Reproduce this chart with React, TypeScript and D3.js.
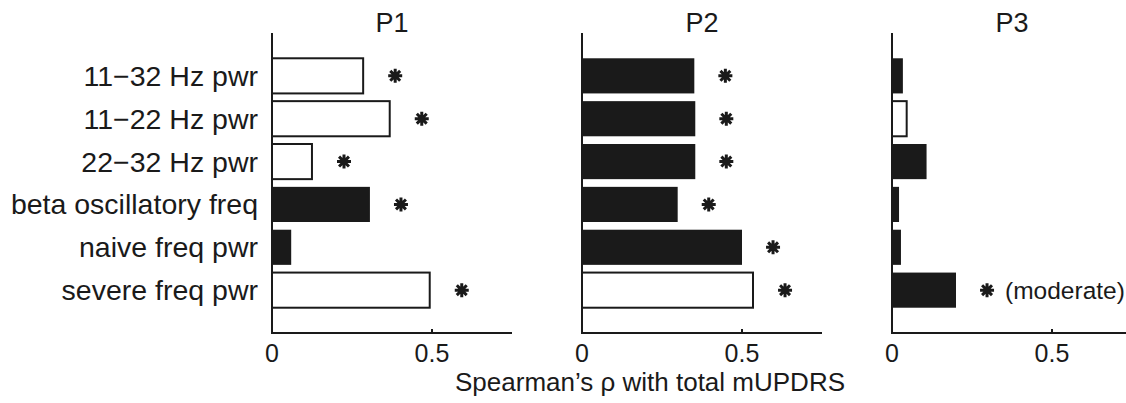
import React from "react";
import * as d3 from "d3";

const categories = [
  "11−32 Hz pwr",
  "11−22 Hz pwr",
  "22−32 Hz pwr",
  "beta oscillatory freq",
  "naive freq pwr",
  "severe freq pwr",
];
const panelTitles = ["P1", "P2", "P3"];
const p1Values = [0.288, 0.371, 0.128, 0.306, 0.06, 0.496];
const p1Filled = [false, false, false, true, true, false];
const p1Sig = [true, true, true, true, false, true];
const p2Values = [0.351, 0.354, 0.354, 0.299, 0.5, 0.5375];
const p2Filled = [true, true, true, true, true, false];
const p2Sig = [true, true, true, true, true, true];
const p3Values = [0.034, 0.049, 0.108, 0.022, 0.028, 0.2];
const p3Filled = [true, false, true, true, true, true];
const p3Sig = [false, false, false, false, false, true];
const p3Notes = ["", "", "", "", "", "(moderate)"];
const xTicks = [0, 0.5];
const xTickLabels = ["0", "0.5"];
const xLabel = "Spearman\u2019s \u03c1 with total mUPDRS";

const panels = [
  { values: p1Values, filled: p1Filled, sig: p1Sig, notes: ["", "", "", "", "", ""] },
  { values: p2Values, filled: p2Filled, sig: p2Sig, notes: ["", "", "", "", "", ""] },
  { values: p3Values, filled: p3Filled, sig: p3Sig, notes: p3Notes },
];

const INK = "#1a1a1a";
const FONT = "Liberation Sans, Arial, sans-serif";

function Asterisk({ cx, cy }: { cx: number; cy: number }) {
  const r = 7;
  const path = d3.path();
  for (let k = 0; k < 4; k++) {
    const a = (Math.PI / 4) * k;
    path.moveTo(cx - r * Math.cos(a), cy - r * Math.sin(a));
    path.lineTo(cx + r * Math.cos(a), cy + r * Math.sin(a));
  }
  return <path d={path.toString()} stroke={INK} strokeWidth={3} fill="none" />;
}

export default function App() {
  const W = 1126;
  const H = 403;
  const panelX0 = [272, 582, 892];
  const panelW = 240;
  const y = d3.scaleLinear().domain([0, 7]).range([33, 333]);
  const step = y(1) - y(0);
  const barH = step * 0.82;

  return (
    <div style={{ position: "absolute", left: 0, top: 0 }}>
      <svg width={W} height={H} style={{ display: "block", background: "#fff" }}>
        {categories.map((c, i) => (
          <text
            key={c}
            x={258}
            y={y(i + 1)}
            textAnchor="end"
            dominantBaseline="central"
            fontFamily={FONT}
            fontSize={28.5}
            fill={INK}
          >
            {c}
          </text>
        ))}
        {panels.map((p, pi) => {
          const x = d3.scaleLinear().domain([0, 0.75]).range([panelX0[pi], panelX0[pi] + panelW]);
          return (
            <g key={pi}>
              <text
                x={(x(0) + x(0.75)) / 2}
                y={32}
                textAnchor="middle"
                fontFamily={FONT}
                fontSize={27}
                fill={INK}
              >
                {panelTitles[pi]}
              </text>
              {p.values.map((v, i) => {
                const cy = y(i + 1);
                return (
                  <g key={i}>
                    <rect
                      x={x(0)}
                      y={cy - barH / 2}
                      width={x(v) - x(0) - (p.filled[i] ? 0 : 1)}
                      height={barH}
                      fill={p.filled[i] ? INK : "#fff"}
                      stroke={p.filled[i] ? "none" : INK}
                      strokeWidth={2}
                    />
                    {p.sig[i] && <Asterisk cx={x(v + 0.097)} cy={cy} />}
                    {p.notes[i] && (
                      <text
                        x={x(v + 0.097) + 18}
                        y={cy}
                        dominantBaseline="central"
                        fontFamily={FONT}
                        fontSize={24.5}
                        fill={INK}
                      >
                        {p.notes[i]}
                      </text>
                    )}
                  </g>
                );
              })}
              <line x1={x(0)} x2={x(0)} y1={y(0)} y2={y(7)} stroke={INK} strokeWidth={2} />
              <line x1={x(0) - 1} x2={x(0.75)} y1={y(7)} y2={y(7)} stroke={INK} strokeWidth={2} />
              {xTicks.map((t, ti) => (
                <g key={ti}>
                  <line x1={x(t)} x2={x(t)} y1={y(7)} y2={y(7) - 4} stroke={INK} strokeWidth={2} />
                  <text
                    x={x(t)}
                    y={362}
                    textAnchor="middle"
                    fontFamily={FONT}
                    fontSize={25}
                    fill={INK}
                  >
                    {xTickLabels[ti]}
                  </text>
                </g>
              ))}
            </g>
          );
        })}
        <text x={650} y={391} textAnchor="middle" fontFamily={FONT} fontSize={26} fill={INK}>
          {xLabel}
        </text>
      </svg>
    </div>
  );
}
